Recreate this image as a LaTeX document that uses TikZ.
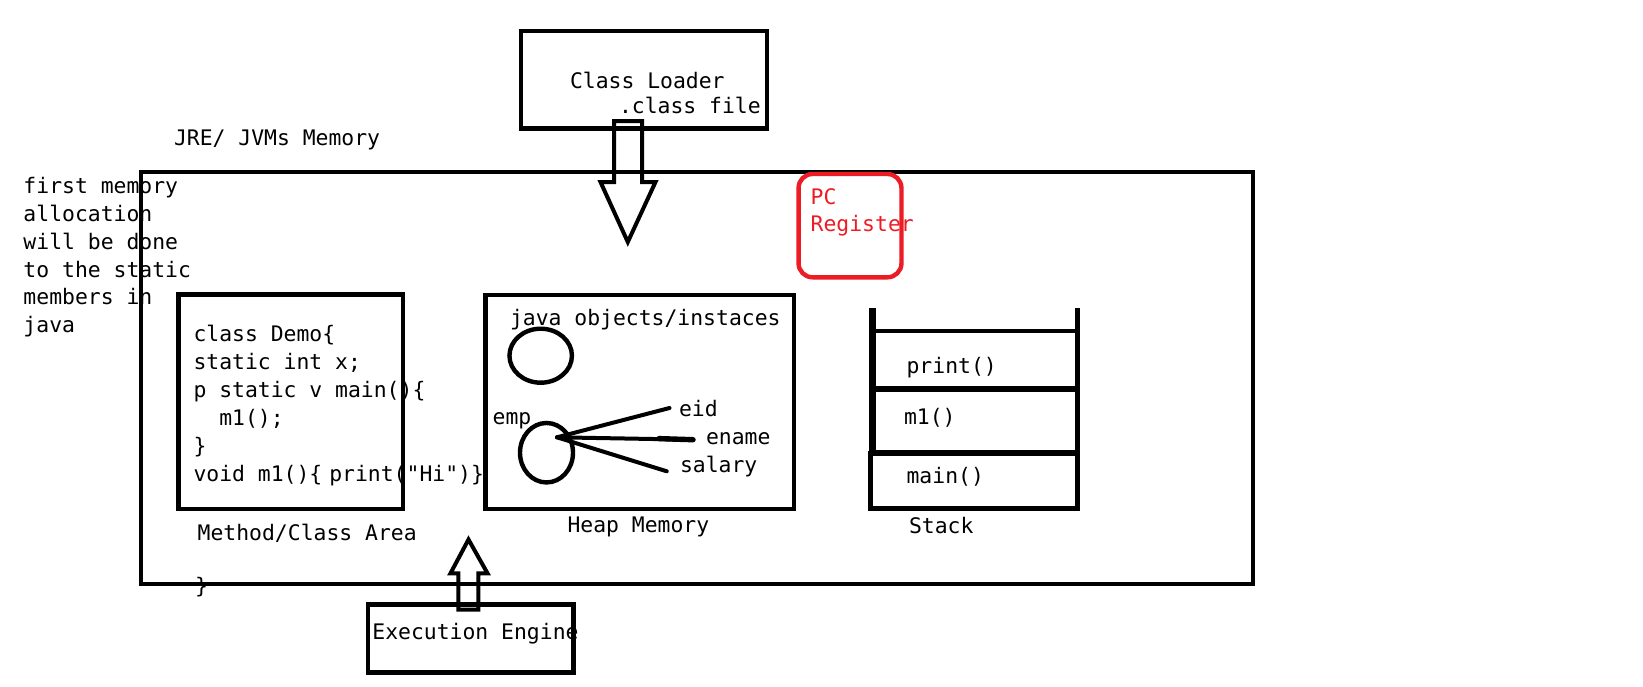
\documentclass[tikz,border=0pt]{standalone}
\usepackage{fontspec}
\setmonofont{DejaVu Sans Mono}
\usetikzlibrary{shapes.geometric}
\definecolor{pcred}{HTML}{ED1C24}
\begin{document}
\begin{tikzpicture}[x=0.5pt,y=-0.5pt,
  every node/.style={inner sep=0pt,outer sep=0pt},
  txt/.style={anchor=base west,font=\ttfamily\fontsize{10.7pt}{13.95pt}\selectfont},
  box/.style={draw,line width=2.2pt},
  ln/.style={line width=2.2pt},
  blockarrow/.style={draw,line width=2pt,line join=miter},
  blob/.style={draw,ellipse,line width=2.2pt}]
\useasboundingbox (0,0) rectangle (1643,686);

% texts
\node[txt] (tcl) at (570,88) {Class Loader};
\node[txt] (tcf) at (619,113.5) {.class file};
\node[txt] (tjre) at (174,145) {JRE/ JVMs Memory};
\node[txt] (tnote) at (23.5,193.3) {\begin{tabular}[t]{@{}l@{}}first memory\\allocation\\will be done\\to the static\\members in\\java\end{tabular}};
\node[txt,text=pcred] (tpc) at (810.7,204) {\begin{tabular}[t]{@{}l@{}}PC\\Register\end{tabular}};
\node[txt] (tcode) at (193.5,341.7) {\begin{tabular}[t]{@{}l@{}}class Demo\{\\static int x;\\p static v main()\{\\\hphantom{mm}m1();\\\}\\void m1()\{\kern3.5pt print("Hi")\}\end{tabular}};
\node[txt] (tmeth) at (197.7,540.3) {Method/Class Area};
\node[txt] (tbrace) at (195,593) {\}};
\node[txt] (tobj) at (510,325) {java objects/instaces};
\node[txt] (temp) at (492.7,424.7) {emp};
\node[txt] (teid) at (679,416.3) {eid};
\node[txt] (tename) at (706,444.7) {ename};
\node[txt] (tsal) at (680,472) {salary};
\node[txt] (theap) at (567.5,532) {Heap Memory};
\node[txt] (tprint) at (906.6,373) {print()};
\node[txt] (tm1) at (904,424.7) {m1()};
\node[txt] (tmain) at (906.6,483.7) {main()};
\node[txt] (tstack) at (909,533.7) {Stack};
\node[txt] (tee) at (372.4,639.7) {Execution Engine};

% boxes
\node[box,minimum width=123pt,minimum height=48.75pt] (loader) at (644,79.75) {};
\node[box,minimum width=556pt,minimum height=206.15pt] (jvm) at (697,377.85) {};
\node[box,minimum width=112.3pt,minimum height=107.25pt] (method) at (290.7,401.55) {};
\node[box,minimum width=154.3pt,minimum height=106.9pt] (heap) at (639.7,401.9) {};
\node[box,minimum width=102.9pt,minimum height=34pt] (engine) at (470.6,638.3) {};
\node[box,draw=pcred,rounded corners=7pt,minimum width=51.45pt,minimum height=51.65pt] (pc) at (850,225.65) {};

% heap objects
\node[blob,minimum width=31.25pt,minimum height=27pt] (obj1) at (540.7,355.7) {};
\node[blob,minimum width=26.5pt,minimum height=29.75pt] (emp) at (546.5,452.7) {};
\coordinate (hub) at (557,437.3);
\coordinate (eidE) at (669.5,408);
\coordinate (enameM) at (659,438.6);
\coordinate (enameE) at (693,439.7);
\coordinate (salE) at (666.8,471.3);
\draw[line width=2pt,line cap=round] (hub) -- (eidE);
\draw[line width=2pt,line cap=round] (hub) -- (enameE);
\draw[line width=2.7pt,line cap=round] (enameM) -- (enameE);
\draw[line width=2pt,line cap=round] (hub) -- (salE);

% stack
\node[draw,line width=2.2pt,minimum width=102.5pt,minimum height=29pt] (fprint) at (975,360) {};
\node[draw,line width=2.8pt,minimum width=102.5pt,minimum height=32pt] (fm1) at (975,421) {};
\node[draw,line width=2.5pt,minimum width=103.5pt,minimum height=27.75pt] (fmain) at (974,480.75) {};
\draw[line width=3.2pt] (fprint.north west) ++(0,-23) -- (fm1.south west);
\draw[ln] (fprint.north east) ++(0,-23) -- (fprint.north east);

% block arrows
\draw[blockarrow] (614,121) -- (642,121) -- (642,182) -- (655.5,182) -- (627.8,242) -- (600.5,182) -- (614,182) -- cycle;
\draw[blockarrow] (458.3,609.5) -- (478.3,609.5) -- (478.3,573.3) -- (487.5,573.3) -- (468.5,539.5) -- (450.5,573.3) -- (458.3,573.3) -- cycle;
\end{tikzpicture}
\end{document}
